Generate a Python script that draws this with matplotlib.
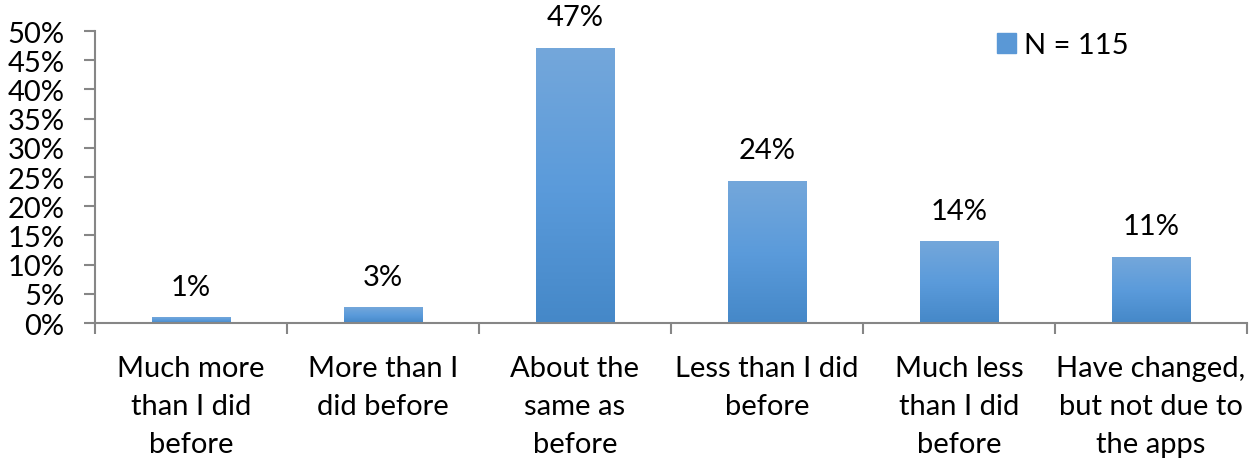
import numpy as np
import matplotlib
matplotlib.use("Agg")
from matplotlib import pyplot as plt
import matplotlib.patches as mpatches
from matplotlib.colors import LinearSegmentedColormap

plt.rcParams['font.family'] = ['Lato', 'DejaVu Sans']

# survey answers (N = 115)
categories = ["Much more\nthan I did\nbefore", "More than I\ndid before",
              "About the\nsame as\nbefore", "Less than I did\nbefore",
              "Much less\nthan I did\nbefore", "Have changed,\nbut not due to\nthe apps"]
values = [0.87, 2.6, 47.0, 24.3, 13.9, 11.3]
value_labels = ["1%", "3%", "47%", "24%", "14%", "11%"]
yticks = [0, 5, 10, 15, 20, 25, 30, 35, 40, 45, 50]
legend_label = "N = 115"

axis_grey = "#868686"
grad = LinearSegmentedColormap.from_list("bar", ["#4588C8", "#5B9BDB", "#74A7DA"])
fs = 21

fig = plt.figure(figsize=(12.55, 4.64), dpi=100)
ax = fig.add_axes([0.0757, 0.3017, 0.9179, 0.6293])

x = np.arange(len(categories))
bars = ax.bar(x, values, width=0.41, color="none", edgecolor="none")

# gradient fill, darker at the bottom
g = np.linspace(0, 1, 256).reshape(-1, 1)
for b in bars:
    x0, y0 = b.get_xy()
    ax.imshow(g, cmap=grad, origin="lower", aspect="auto",
              extent=[x0, x0 + b.get_width(), y0, y0 + b.get_height()],
              zorder=2)

for xi, v, lab in zip(x, values, value_labels):
    ax.annotate(lab, (xi, v), xytext=(0, 13), textcoords="offset points",
                ha="center", va="bottom", fontsize=fs, color="black")

ax.set_xlim(-0.5, len(categories) - 0.5)
ax.set_ylim(0, 50)
ax.set_yticks(yticks)
ax.set_yticklabels([f"{t}%" for t in yticks], fontsize=fs)
ax.set_xticks(np.arange(len(categories) + 1) - 0.5)
ax.set_xticklabels([])
ax.set_xticks(x, minor=True)
ax.set_xticklabels(categories, minor=True, fontsize=fs, linespacing=1.57)
ax.tick_params(axis="x", which="minor", length=0, pad=23)
ax.tick_params(axis="x", which="major", length=8, width=1.5, color=axis_grey,
               direction="out")
ax.tick_params(axis="y", length=8, width=1.5, color=axis_grey, pad=14)

for s in ["top", "right"]:
    ax.spines[s].set_visible(False)
for s in ["left", "bottom"]:
    ax.spines[s].set_color(axis_grey)
    ax.spines[s].set_linewidth(1.5)
    ax.spines[s].set_zorder(3)

handle = mpatches.Patch(color="#5A98D6", label=legend_label)
ax.legend(handles=[handle], loc="upper left", bbox_to_anchor=(0.76, 1.085),
          frameon=False, fontsize=fs, handlelength=0.65, handleheight=0.65,
          handletextpad=0.3)

fig.savefig("out.png", dpi=100)
